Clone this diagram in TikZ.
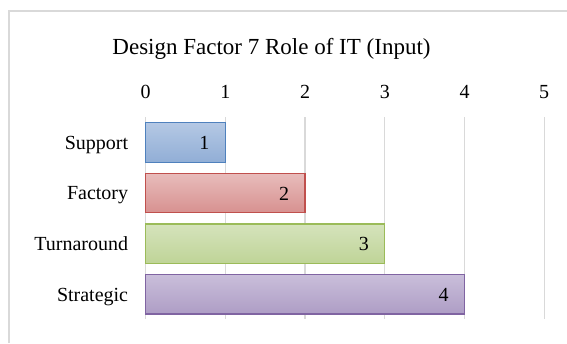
\documentclass[tikz,border=0pt]{standalone}
\usepackage{fontspec}
\setmainfont{Liberation Serif}
\definecolor{gridgray}{HTML}{D9D9D9}
\definecolor{bluetop}{HTML}{B4C8E4}
\definecolor{bluebot}{HTML}{91AED6}
\definecolor{blueline}{HTML}{4F81BD}
\definecolor{redtop}{HTML}{E8BCBB}
\definecolor{redbot}{HTML}{D79190}
\definecolor{redline}{HTML}{C0504D}
\definecolor{greentop}{HTML}{D5E3BC}
\definecolor{greenbot}{HTML}{BFD497}
\definecolor{greenline}{HTML}{9BBB59}
\definecolor{purpletop}{HTML}{C9BEDA}
\definecolor{purplebot}{HTML}{AE9DC5}
\definecolor{purpleline}{HTML}{8064A2}
\begin{document}
\begin{tikzpicture}[x=1pt,y=-1pt,
  gridline/.style={draw=gridgray,line width=1.3pt},
  framestyle/.style={draw=gridgray,line width=1.3pt},
  bar/.style={line width=1.3pt},
  cat/.style={anchor=base east,font=\fontsize{20}{24}\selectfont,inner sep=0pt},
  tick/.style={anchor=base,font=\fontsize{20}{24}\selectfont,inner sep=0pt},
  val/.style={anchor=base,font=\fontsize{20}{24}\selectfont,inner sep=0pt},
  titlestyle/.style={anchor=base,font=\fontsize{23}{27}\selectfont,inner sep=0pt}]
\useasboundingbox (0,0) rectangle (567,343);
\fill[white] (0,0) rectangle (567,343);
\draw[framestyle] (9,343) -- (9,11) -- (567,11);
\node[titlestyle] (title) at (271.5,54) {Design Factor 7 Role of IT (Input)};
% gridlines and ticks
\foreach \k in {0,...,5} {
  \coordinate (gt\k) at ({145.7+79.7*\k},117);
  \coordinate (gb\k) at ({145.7+79.7*\k},319);
  \draw[gridline] (gt\k) -- (gb\k);
  \node[tick] (tick\k) at ({145.7+79.7*\k},98.7) {\k};
}
% bars
\draw[bar,draw=blueline,top color=bluetop,bottom color=bluebot] (145.7,122.7) rectangle (225.4,162.3);
\draw[bar,draw=redline,top color=redtop,bottom color=redbot] (145.7,173.3) rectangle (305.1,212.7);
\draw[bar,draw=greenline,top color=greentop,bottom color=greenbot] (145.7,224) rectangle (384.8,263.4);
\draw[bar,draw=purpleline,top color=purpletop,bottom color=purplebot] (145.7,274.5) rectangle (464.5,314);
% category labels
\node[cat] (c1) at (128.3,149.2) {Support};
\node[cat] (c2) at (128.3,199.8) {Factory};
\node[cat] (c3) at (128.3,250.4) {Turnaround};
\node[cat] (c4) at (128.3,301.0) {Strategic};
% value labels
\node[val] (v1) at (204.4,149.6) {1};
\node[val] (v2) at (284.1,200.2) {2};
\node[val] (v3) at (363.8,250.8) {3};
\node[val] (v4) at (443.5,301.4) {4};
\end{tikzpicture}
\end{document}
